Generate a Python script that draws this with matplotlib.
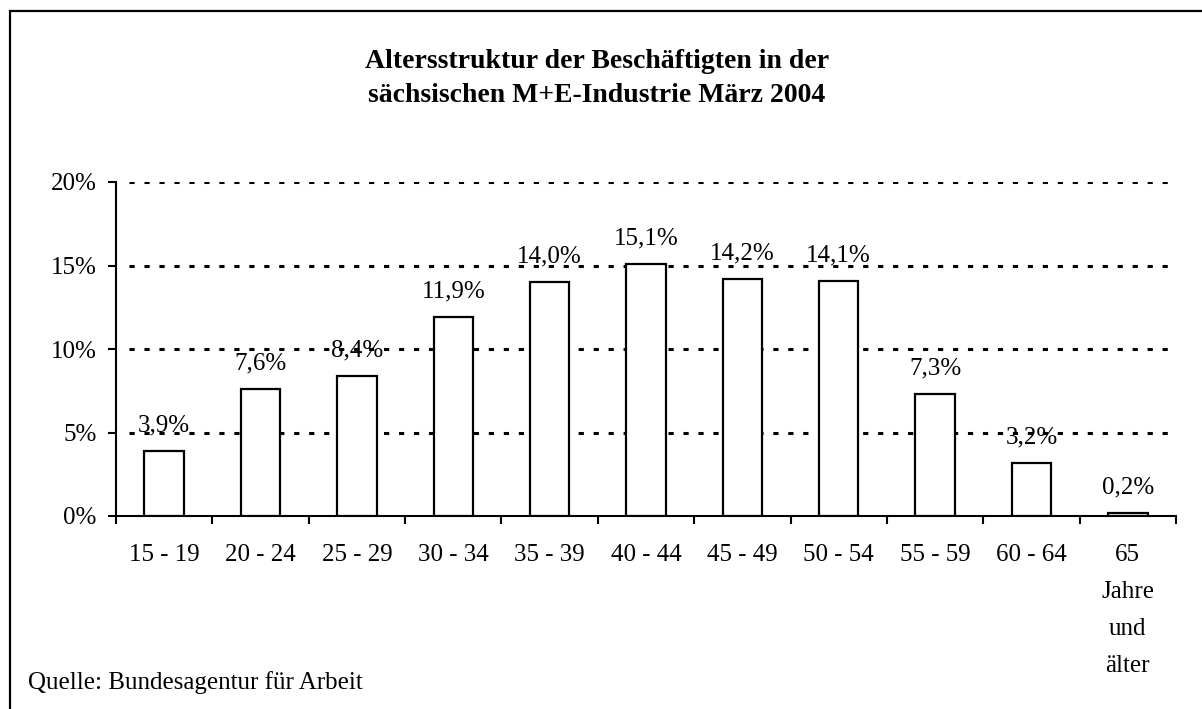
import numpy as np
import matplotlib
matplotlib.use("Agg")
import matplotlib.pyplot as plt
from matplotlib.patches import Rectangle

plt.rcParams['font.family'] = ['Liberation Serif', 'DejaVu Serif']

# Daten
kategorien = ['15 - 19', '20 - 24', '25 - 29', '30 - 34', '35 - 39', '40 - 44',
              '45 - 49', '50 - 54', '55 - 59', '60 - 64', '65\nJahre\nund\nälter']
anteile = [3.9, 7.6, 8.4, 11.9, 14.0, 15.1, 14.2, 14.1, 7.3, 3.2, 0.2]
y_ticks = [0, 5, 10, 15, 20]

W, H = 1202, 709
fig = plt.figure(figsize=(W / 100, H / 100), dpi=100)
ax = fig.add_axes([116 / W, (H - 516) / H, (1176 - 116) / W, (516 - 182) / H])

x = np.arange(len(kategorien))
ax.bar(x, anteile, width=0.41, color='white', edgecolor='black', linewidth=1.6, zorder=3)

for xi, v in zip(x, anteile):
    ax.annotate(f"{v:.1f}%".replace('.', ','), (xi, v), xytext=(0, 14),
                textcoords='offset points', ha='center', va='baseline', fontsize=18, zorder=2)

# Gitterlinien
for t in y_ticks[1:]:
    ax.axhline(t, xmin=0.012, xmax=0.992, color='black', lw=2.2,
               ls=(0, (1.7, 3.2)), zorder=2, snap=True)

ax.set_xlim(-0.5, len(kategorien) - 0.5)
ax.set_ylim(0, 20)
ax.set_yticks(y_ticks)
ax.set_yticklabels([f"{t}%" for t in y_ticks], fontsize=18)
ax.set_xticks(x)
ax.set_xticklabels(kategorien, fontsize=18, va='top', linespacing=1.88)
ax.set_xticks(np.arange(-0.5, len(kategorien)), minor=True)
ax.tick_params(axis='x', which='major', length=0, pad=20)
ax.tick_params(axis='x', which='minor', length=6, width=1.5, direction='out')
ax.tick_params(axis='y', length=6, width=1.5, direction='out', pad=8)

for s in ['top', 'right']:
    ax.spines[s].set_visible(False)
ax.spines['left'].set_linewidth(1.5)
ax.spines['bottom'].set_linewidth(1.5)

fig.text(597 / W, 1 - 61 / H, 'Altersstruktur der Beschäftigten in der',
         ha='center', va='center', fontsize=20, fontweight='bold')
fig.text(597 / W, 1 - 96 / H, 'sächsischen M+E-Industrie März 2004',
         ha='center', va='center', fontsize=20, fontweight='bold')
fig.text(28 / W, 1 - 689 / H, 'Quelle: Bundesagentur für Arbeit',
         ha='left', va='baseline', fontsize=18)

# Rahmen
fig.patches.append(Rectangle((10.5 / W, -0.1), 1.2, 1 - 10.5 / H + 0.1,
                             transform=fig.transFigure, fill=False,
                             edgecolor='black', linewidth=1.6))

fig.savefig('out.png', dpi=100)
